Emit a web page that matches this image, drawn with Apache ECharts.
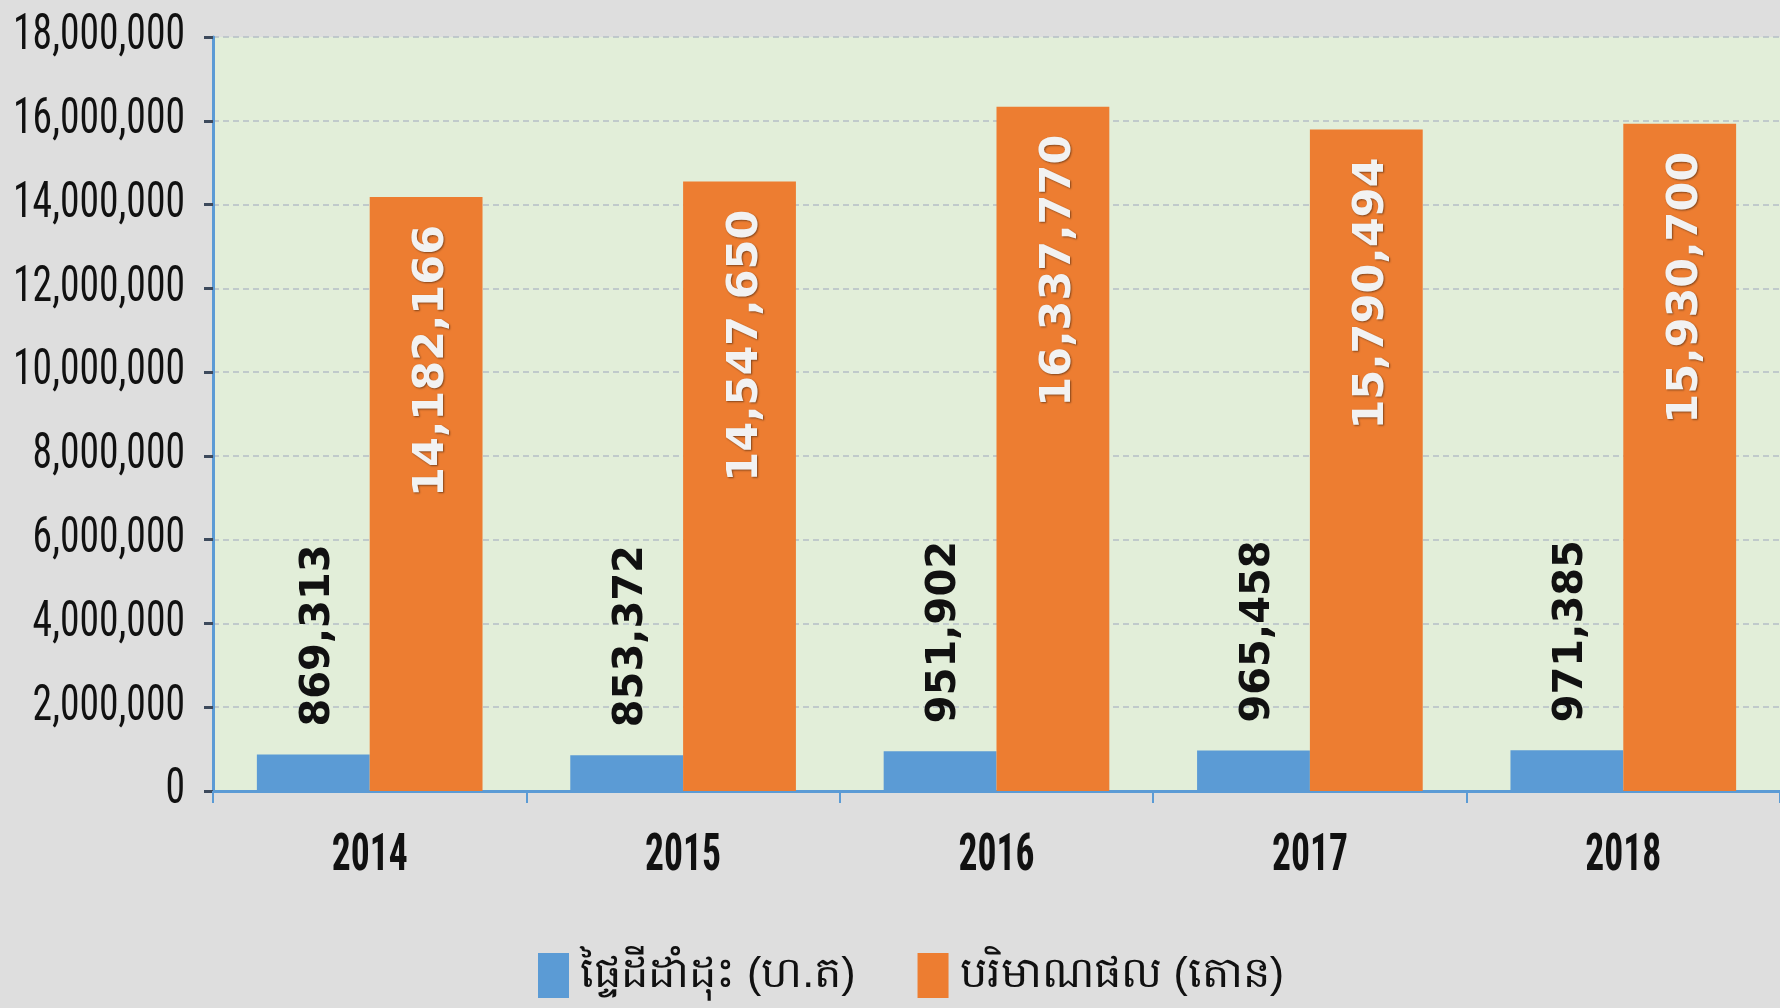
<!DOCTYPE html>
<html><head><meta charset="utf-8">
<script src="https://cdn.jsdelivr.net/npm/echarts@6/dist/echarts.min.js"></script>
<style>html,body{margin:0;padding:0;background:#dedede;}#c{width:1780px;height:1008px;}</style>
</head><body><div id="c"></div>
<script>
const years = ['2014','2015','2016','2017','2018'];
const areaName = 'ផ្ទៃដីដាំដុះ (ហ.ត)';
const prodName = 'បរិមាណផល (តោន)';
const areaValues = [869313, 853372, 951902, 965458, 971385];
const prodValues = [14182166, 14547650, 16337770, 15790494, 15930700];
const yMin = 0, yMax = 18000000, yInterval = 2000000;

const fmt = v => Number(v).toLocaleString('en-US');

// pick the narrowest available sans family and fit sizes to the reference widths
const ctx = document.createElement('canvas').getContext('2d');
function tw(font, s){ ctx.font = font; return ctx.measureText(s).width; }
function capH(font){ ctx.font = font; return ctx.measureText('0').actualBoundingBoxAscent; }
const candidates = ['Liberation Sans Narrow', 'Arial Narrow', 'Roboto Condensed', 'Open Sans Condensed', 'DejaVu Sans Condensed', 'Liberation Sans'];
let narrow = 'Liberation Sans';
for (const f of candidates) {
  if (tw('40px "' + f + '", monospace', '18,000,000') !== tw('40px monospace', '18,000,000')) { narrow = f; break; }
}
const ySize = Math.min(46, 40 * 172 / tw('40px "' + narrow + '"', '18,000,000'));
const xSize = Math.min(46, 40 * 76 / tw('bold 40px "' + narrow + '"', '2014'));
const narrowFam = '"' + narrow + '", sans-serif';
// vertical stretch to mimic the tall narrow lettering of the original
const yStretch = Math.max(1, Math.min(1.6, 35 / capH(ySize + 'px "' + narrow + '"')));
const xStretch = Math.max(1, Math.min(1.6, 36 / capH('bold ' + xSize + 'px "' + narrow + '"')));

const chart = echarts.init(document.getElementById('c'));
chart.setOption({
  backgroundColor: '#dedede',
  animation: false,
  grid: {left: 213, right: 0, top: 37, bottom: 217, outerBoundsMode: 'none', containLabel: false,
         show: true, backgroundColor: '#E2EED9', borderWidth: 0},
  legend: {
    left: 533, top: 948, itemWidth: 31, itemHeight: 45, itemGap: 62,
    icon: 'rect',
    textStyle: {fontSize: 43, color: '#111', padding: [0,0,0,6]},
    data: [areaName, prodName]
  },
  xAxis: {
    type: 'category', data: years,
    axisLine: {lineStyle: {color: '#5B9BD5', width: 3}},
    axisTick: {show: true, length: 12, lineStyle: {color: '#5B9BD5', width: 2}},
    axisLabel: {margin: 40, fontSize: xSize, fontWeight: 'bold', color: '#111', fontFamily: narrowFam}
  },
  yAxis: {
    type: 'value', min: yMin, max: yMax, interval: yInterval,
    axisLine: {show: true, lineStyle: {color: '#5B9BD5', width: 3}},
    axisTick: {show: true, length: 9, lineStyle: {color: '#3d4a5c', width: 3}},
    splitLine: {show: true, lineStyle: {color: '#b5bfc6', width: 1.5, type: [6, 4]}},
    axisLabel: {margin: 28, fontSize: ySize, color: '#111', fontFamily: narrowFam, formatter: fmt}
  },
  series: [
    {
      name: areaName, type: 'bar', data: areaValues, barGap: '0%', barCategoryGap: '28%',
      itemStyle: {color: '#5B9BD5'},
      label: {show: true, position: 'top', distance: 28, rotate: 90, align: 'left', verticalAlign: 'middle',
        offset: [0, 5],
        fontSize: 40, fontWeight: 'bold', color: '#111', fontFamily: 'DejaVu Sans, sans-serif', formatter: p => fmt(p.value)}
    },
    {
      name: prodName, type: 'bar', data: prodValues,
      itemStyle: {color: '#ED7D31'},
      label: {show: true, position: 'insideTop', distance: 28, rotate: 90, align: 'right', verticalAlign: 'middle',
        offset: [0, 6],
        fontSize: 43, fontWeight: 'bold', color: '#f2f2f2', fontFamily: 'DejaVu Sans, sans-serif',
        textShadowColor: 'rgba(0,0,0,0.45)', textShadowBlur: 2, textShadowOffsetX: 1, textShadowOffsetY: 1,
        formatter: p => fmt(p.value)}
    }
  ]
});

// stretch axis label text vertically (style only; positions stay those of the axes)
try {
  const yLabels = new Set();
  for (let v = yMin; v <= yMax; v += yInterval) yLabels.add(fmt(v));
  const xLabels = new Set(years);
  const zr = chart.getZr();
  const done = new Set();
  zr.storage.getDisplayList(true).forEach(el => {
    const host = el.parent && el.parent.style && el.parent.style.text != null ? el.parent : el;
    const t = host.style && host.style.text;
    if (t == null || done.has(host)) return;
    if (yLabels.has(String(t)) && host.style.fontSize === ySize) { host.scaleY = yStretch; done.add(host); host.markRedraw(); }
    else if (xLabels.has(String(t)) && host.style.fontSize === xSize) { host.scaleY = xStretch; done.add(host); host.markRedraw(); }
  });
  zr.refreshImmediately();
} catch (e) { console.log(e); }
</script></body></html>
